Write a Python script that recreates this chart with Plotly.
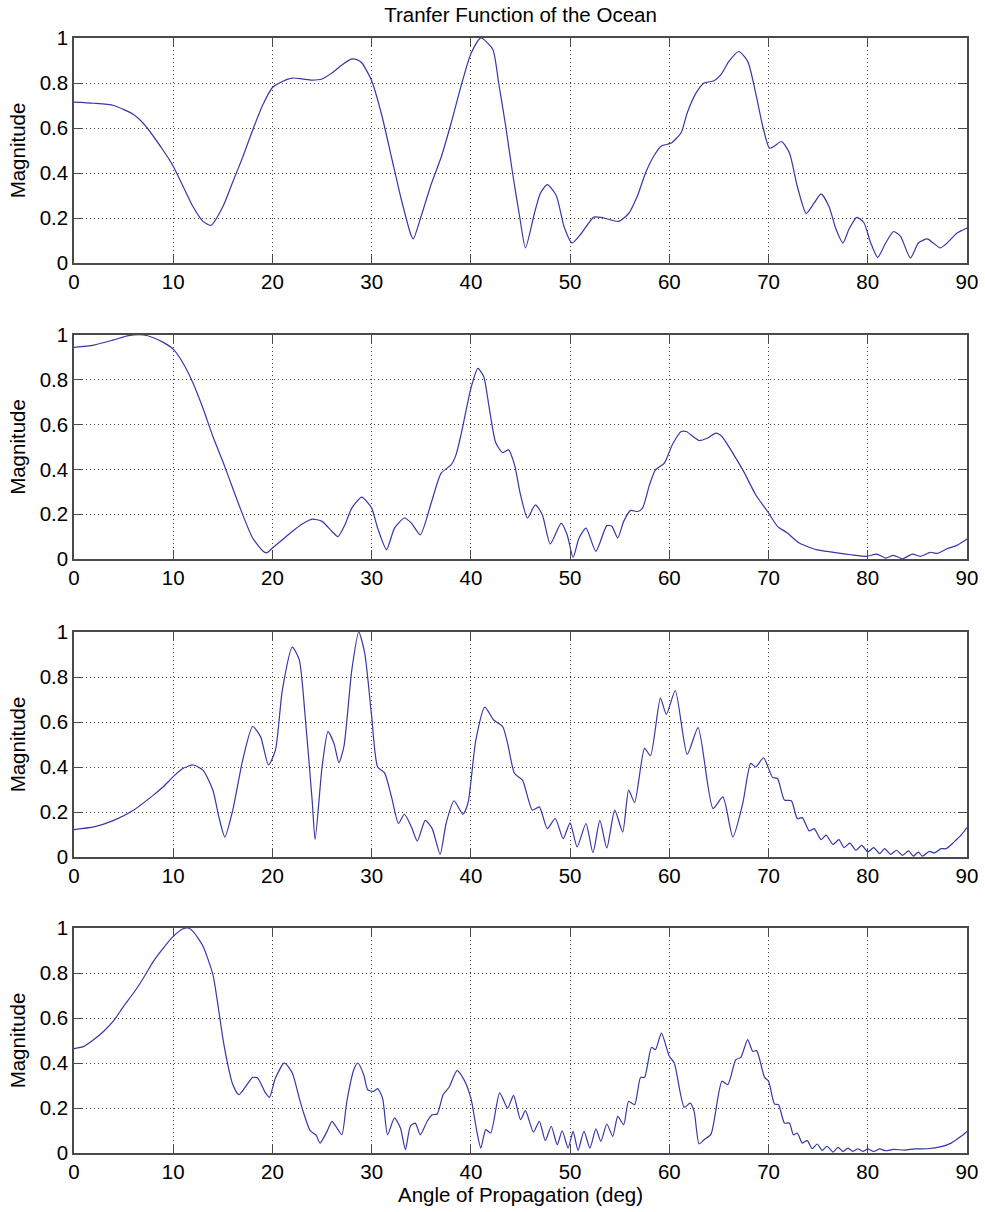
import plotly.graph_objects as go

# ---- data ----
x1 = [0, 2, 4, 6, 7, 9, 10, 11, 12, 13, 13.8, 15, 16, 17, 18, 19, 20, 21, 22, 23, 24, 25, 26, 27, 28, 28.5, 29, 30, 31, 32, 33, 34, 34.2, 35, 36, 37, 38, 39, 40, 41, 42.2, 42.8, 43.5, 44.2, 44.9, 45.5, 46.4, 47.0, 47.7, 48.6, 49.4, 50.2, 51.1, 52.4, 53.4, 54.9, 55.9, 56.8, 57.6, 58.5, 59.2, 60.2, 61.2, 61.8, 62.7, 63.5, 64.5, 65.2, 66.0, 67.0, 67.9, 68.7, 69.4, 70.1, 70.6, 71.3, 72.1, 72.9, 73.8, 74.6, 75.3, 76.1, 76.8, 77.5, 78.1, 78.9, 79.6, 80.3, 81.0, 81.8, 82.6, 83.3, 84.3, 85.1, 86.0, 86.6, 87.3, 88.0, 89.0, 90]
y1 = [0.715, 0.71, 0.70, 0.66, 0.62, 0.50, 0.43, 0.34, 0.25, 0.185, 0.167, 0.25, 0.36, 0.47, 0.59, 0.70, 0.78, 0.807, 0.822, 0.818, 0.813, 0.818, 0.845, 0.88, 0.907, 0.904, 0.89, 0.81, 0.66, 0.47, 0.28, 0.12, 0.107, 0.21, 0.35, 0.47, 0.62, 0.785, 0.93, 1.0, 0.95, 0.80, 0.61, 0.40, 0.21, 0.067, 0.22, 0.31, 0.348, 0.30, 0.16, 0.089, 0.13, 0.204, 0.20, 0.185, 0.22, 0.30, 0.40, 0.48, 0.52, 0.533, 0.58, 0.667, 0.756, 0.80, 0.81, 0.837, 0.896, 0.94, 0.896, 0.756, 0.61, 0.51, 0.52, 0.54, 0.49, 0.34, 0.22, 0.267, 0.307, 0.25, 0.15, 0.089, 0.15, 0.203, 0.18, 0.089, 0.025, 0.089, 0.14, 0.118, 0.022, 0.089, 0.107, 0.089, 0.067, 0.089, 0.133, 0.155]

x2 = [0, 2, 4, 5.5, 7, 8, 9, 10, 11, 12, 13, 14, 15, 16, 17, 18, 19, 19.4, 20, 21, 22, 23, 24, 25, 26, 26.6, 27.3, 28, 29, 30, 30.6, 31.5, 32.3, 33.3, 34, 34.9, 36, 37, 38, 38.5, 39, 40, 40.7, 41.3, 41.8, 42.5, 43.2, 43.8, 44.4, 45.0, 45.7, 46.5, 47.2, 48.0, 49.1, 49.7, 50.3, 50.9, 51.6, 52.6, 53.7, 54.2, 54.8, 55.4, 56.1, 56.8, 57.3, 58.0, 58.6, 59.5, 60.3, 61.2, 61.7, 63.0, 63.8, 64.7, 65.3, 66.5, 67.5, 68.7, 69.9, 70.9, 71.9, 73.1, 74.8, 75.9, 76.9, 78.3, 79.9, 80.9, 81.8, 82.6, 83.5, 84.5, 85.3, 86.3, 87.0, 88.0, 89.0, 90]
y2 = [0.945, 0.955, 0.978, 0.997, 1.0, 0.988, 0.967, 0.937, 0.874, 0.785, 0.673, 0.547, 0.435, 0.316, 0.198, 0.094, 0.037, 0.027, 0.049, 0.086, 0.123, 0.156, 0.178, 0.168, 0.123, 0.10, 0.153, 0.227, 0.276, 0.227, 0.138, 0.042, 0.138, 0.183, 0.16, 0.108, 0.25, 0.383, 0.42, 0.465, 0.554, 0.762, 0.851, 0.814, 0.688, 0.52, 0.475, 0.487, 0.42, 0.287, 0.183, 0.242, 0.198, 0.067, 0.16, 0.108, 0.007, 0.094, 0.138, 0.034, 0.149, 0.146, 0.094, 0.168, 0.217, 0.212, 0.227, 0.331, 0.398, 0.428, 0.51, 0.569, 0.569, 0.529, 0.539, 0.562, 0.547, 0.465, 0.39, 0.287, 0.212, 0.146, 0.116, 0.071, 0.042, 0.034, 0.027, 0.019, 0.012, 0.022, 0.004, 0.016, 0.001, 0.022, 0.012, 0.03, 0.025, 0.046, 0.061, 0.089]

x3 = [0, 2, 4, 6, 8, 9, 10, 11, 12, 13, 14, 14.6, 15.2, 16, 17, 18, 18.8, 19.6, 20.3, 21, 22, 22.7, 23.3, 24, 24.3, 25, 25.6, 26.2, 26.7, 27.2, 28, 28.7, 29.3, 30, 30.6, 31.3, 32, 32.7, 33.3, 34, 34.6, 35.4, 36.1, 36.9, 37.5, 38.3, 39.2, 39.7, 40.5, 41.4, 42.3, 43.2, 43.7, 44.4, 45.2, 46.2, 46.9, 47.7, 48.5, 49.3, 50.0, 50.7, 51.6, 52.3, 53.0, 53.7, 54.5, 55.3, 55.9, 56.5, 57.5, 58.1, 59.1, 59.7, 60.6, 61.8, 62.9, 64.4, 65.4, 66.4, 67.4, 68.2, 68.7, 69.5, 70.4, 70.9, 71.6, 72.3, 72.9, 73.4, 74.1, 74.6, 75.3, 75.8, 76.5, 77.1, 77.6, 78.2, 78.8, 79.4, 80.0, 80.6, 81.2, 81.7, 82.3, 82.9, 83.5, 84.1, 84.6, 85.1, 85.5, 86.2, 86.7, 87.4, 87.9, 88.7, 89.4, 90]
y3 = [0.122, 0.134, 0.163, 0.208, 0.275, 0.312, 0.357, 0.394, 0.409, 0.386, 0.297, 0.178, 0.089, 0.208, 0.431, 0.58, 0.535, 0.409, 0.475, 0.743, 0.933, 0.877, 0.624, 0.253, 0.077, 0.40, 0.557, 0.505, 0.419, 0.49, 0.832, 1.0, 0.906, 0.624, 0.40, 0.374, 0.267, 0.149, 0.19, 0.134, 0.071, 0.163, 0.126, 0.012, 0.149, 0.25, 0.19, 0.238, 0.52, 0.666, 0.609, 0.58, 0.505, 0.371, 0.342, 0.208, 0.223, 0.126, 0.171, 0.082, 0.152, 0.045, 0.149, 0.019, 0.163, 0.04, 0.208, 0.111, 0.297, 0.242, 0.483, 0.45, 0.706, 0.634, 0.74, 0.456, 0.575, 0.215, 0.267, 0.089, 0.238, 0.416, 0.40, 0.441, 0.354, 0.349, 0.253, 0.25, 0.171, 0.175, 0.116, 0.126, 0.077, 0.097, 0.056, 0.077, 0.042, 0.062, 0.03, 0.052, 0.022, 0.042, 0.015, 0.037, 0.012, 0.03, 0.007, 0.027, 0.004, 0.022, 0.004, 0.025, 0.018, 0.037, 0.037, 0.067, 0.097, 0.131]

x4 = [0, 1, 2, 3, 4, 5, 6, 7, 8, 9, 10, 11, 11.5, 12, 13, 14, 14.6, 15, 15.5, 16, 16.6, 17.2, 18, 18.5, 19.3, 19.7, 20.3, 21.2, 22, 22.7, 23.2, 23.8, 24.4, 24.8, 25.5, 26, 26.6, 27, 27.5, 28.2, 28.6, 29.2, 29.6, 30.2, 30.6, 31.1, 31.6, 32.3, 32.9, 33.4, 33.9, 34.4, 34.9, 35.6, 36.1, 36.6, 37.2, 37.8, 38.6, 39.3, 40, 40.6, 41.0, 41.5, 42.0, 42.9, 43.7, 44.3, 45.0, 45.5, 46.3, 46.9, 47.5, 48.1, 48.7, 49.2, 49.8, 50.3, 50.8, 51.4, 52.0, 52.6, 53.1, 53.7, 54.3, 54.8, 55.4, 55.9, 56.5, 57.1, 57.5, 58.2, 58.6, 59.2, 60.0, 60.5, 61.5, 62.1, 62.5, 63.0, 63.5, 64.2, 65.3, 65.9, 66.7, 67.2, 67.9, 68.4, 68.8, 69.6, 70.0, 70.6, 71.0, 71.6, 72.1, 72.5, 72.9, 73.4, 73.9, 74.4, 74.9, 75.4, 75.9, 76.5, 77.0, 77.5, 78.0, 78.5, 79.0, 79.5, 80.0, 80.6, 81.2, 81.8, 82.6, 83.7, 84.7, 86.0, 87.4, 88.4, 89.4, 90]
y4 = [0.464, 0.474, 0.504, 0.541, 0.588, 0.652, 0.711, 0.778, 0.852, 0.911, 0.963, 0.997, 1.0, 0.985, 0.919, 0.793, 0.63, 0.511, 0.393, 0.304, 0.259, 0.289, 0.336, 0.333, 0.267, 0.247, 0.333, 0.40, 0.356, 0.244, 0.17, 0.099, 0.079, 0.044, 0.096, 0.141, 0.104, 0.081, 0.23, 0.37, 0.40, 0.348, 0.281, 0.274, 0.286, 0.244, 0.081, 0.156, 0.111, 0.015, 0.119, 0.133, 0.081, 0.141, 0.17, 0.173, 0.259, 0.292, 0.366, 0.326, 0.244, 0.096, 0.022, 0.104, 0.089, 0.267, 0.20, 0.256, 0.148, 0.188, 0.093, 0.141, 0.055, 0.119, 0.037, 0.099, 0.022, 0.096, 0.012, 0.096, 0.022, 0.107, 0.052, 0.129, 0.074, 0.163, 0.126, 0.23, 0.215, 0.336, 0.336, 0.47, 0.459, 0.533, 0.43, 0.40, 0.203, 0.222, 0.185, 0.04, 0.059, 0.084, 0.319, 0.304, 0.415, 0.425, 0.504, 0.452, 0.455, 0.336, 0.319, 0.218, 0.215, 0.133, 0.133, 0.081, 0.089, 0.044, 0.055, 0.019, 0.04, 0.012, 0.03, 0.004, 0.025, 0.007, 0.022, 0.007, 0.019, 0.007, 0.018, 0.007, 0.018, 0.01, 0.016, 0.013, 0.018, 0.019, 0.028, 0.044, 0.074, 0.096]

x_ticks = [0, 10, 20, 30, 40, 50, 60, 70, 80, 90]
y_ticks = [0, 0.2, 0.4, 0.6, 0.8, 1]
y_tick_labels = ["0", "0.2", "0.4", "0.6", "0.8", "1"]
title_text = "Tranfer Function of the Ocean"
y_title = "Magnitude"
x_title = "Angle of Propagation (deg)"

# ---- figure ----
W, H = 985, 1212
top, bottom = 38, 59
ph = H - top - bottom
panels = [(38, 263), (335, 559), (632, 857), (928, 1153)]

FONT = "Liberation Sans, Arial, sans-serif"
FS = 20.5
LINE_COLOR = "rgb(55,55,165)"
AX_COLOR = "#4a4a4a"

fig = go.Figure()
series = [(x1, y1), (x2, y2), (x3, y3), (x4, y4)]
for i, (xs, ys) in enumerate(series):
    suffix = "" if i == 0 else str(i + 1)
    fig.add_trace(go.Scatter(
        x=xs, y=ys, mode="lines",
        line=dict(color=LINE_COLOR, width=1.2, shape="spline", smoothing=0.6),
        xaxis="x" + suffix, yaxis="y" + suffix, showlegend=False,
        hoverinfo="skip",
    ))

layout = dict(
    width=W, height=H,
    margin=dict(l=74, r=18, t=top, b=bottom),
    paper_bgcolor="white", plot_bgcolor="white",
    font=dict(family=FONT, size=FS, color="black"),
    title=dict(text=title_text, x=(74 + 967) / 2 / W, xanchor="center",
               xref="paper" if False else "container",
               y=1 - 15 / H, yref="container", yanchor="middle",
               font=dict(family=FONT, size=FS, color="black")),
    showlegend=False,
)

for i, (t, b) in enumerate(panels):
    suffix = "" if i == 0 else str(i + 1)
    d0 = 1 - (b - top) / ph
    d1 = 1 - (t - top) / ph
    ax_common = dict(
        showline=True, linecolor=AX_COLOR, linewidth=1.5, mirror="allticks",
        ticks="inside", ticklen=9, tickcolor=AX_COLOR, tickwidth=1.2,
        showgrid=True, gridcolor="rgba(0,0,0,0.75)", gridwidth=1, griddash="1px,3px",
        zeroline=False, tickfont=dict(family=FONT, size=FS, color="black"),
        automargin=False,
    )
    xa = dict(ax_common, range=[0, 90], tickmode="array", tickvals=x_ticks,
              ticktext=[str(v) for v in x_ticks], anchor="y" + suffix,
              domain=[0, 1])
    if i == 3:
        xa["title"] = dict(text=x_title, font=dict(family=FONT, size=FS, color="black"), standoff=2)
    ya = dict(ax_common, range=[0, 1], tickmode="array", tickvals=y_ticks,
              ticktext=y_tick_labels, anchor="x" + suffix, domain=[d0, d1],
              title=dict(text=y_title, font=dict(family=FONT, size=FS, color="black"), standoff=8))
    layout["xaxis" + suffix] = xa
    layout["yaxis" + suffix] = ya

fig.update_layout(**layout)
fig.write_html("out.html")
